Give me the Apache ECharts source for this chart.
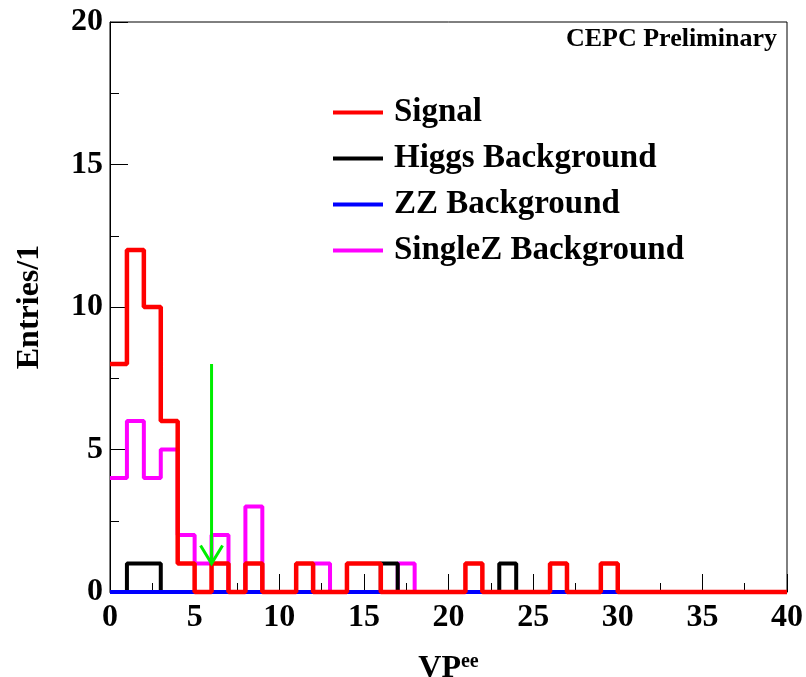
<!DOCTYPE html>
<html>
<head>
<meta charset="utf-8">
<script src="https://cdn.jsdelivr.net/npm/echarts@6/dist/echarts.min.js"></script>
<style>
html,body{margin:0;padding:0;background:#fff;}
#c{width:806px;height:677px;}
</style>
</head>
<body>
<div id="c"></div>
<script>
// Bin edges 0..40, width 1
var binStart = 0, binWidth = 1, nBins = 40;
var seriesNames = ['Signal', 'Higgs Background', 'ZZ Background', 'SingleZ Background'];
var signal  = [8,12,10,6,1,0,1,0,1,0, 0,1,0,0,1,1,0,0,0,0, 0,1,0,0,0,0,1,0,0,1, 0,0,0,0,0,0,0,0,0,0];
var higgs   = [0,1,1,0,0,0,0,0,0,0, 0,0,0,0,0,0,1,0,0,0, 0,0,0,1,0,0,0,0,0,0, 0,0,0,0,0,0,0,0,0,0];
var zz      = [0,0,0,0,0,0,0,0,0,0, 0,0,0,0,0,0,0,0,0,0, 0,0,0,0,0,0,0,0,0,0, 0,0,0,0,0,0,0,0,0,0];
var singleZ = [4,6,4,5,2,1,2,0,3,0, 0,0,1,0,0,0,0,1,0,0, 0,0,0,0,0,0,0,0,0,0, 0,0,0,0,0,0,0,0,0,0];
var cutArrow = {x: 6, from: 8, to: 1};
var xTicks = [0,5,10,15,20,25,30,35,40];
var yTicks = [0,5,10,15,20];

function steps(vals){
  var d = [];
  for (var i = 0; i < vals.length; i++) d.push([binStart + i*binWidth, vals[i]]);
  d.push([binStart + vals.length*binWidth, vals[vals.length-1]]);
  return d;
}

var FONT = '"Liberation Serif", "Times New Roman", serif';
var chart = echarts.init(document.getElementById('c'), null, {renderer:'canvas'});

function histSeries(name, vals, color, width, z){
  return {
    name: name, type: 'line', step: 'end', data: steps(vals),
    symbol: 'none', showSymbol: false, clip: false, z: z,
    lineStyle: {color: color, width: width}, itemStyle: {color: color},
    emphasis: {disabled: true}, animation: false
  };
}

var option = {
  animation: false,
  backgroundColor: '#fff',
  grid: {left: 110, right: 19, top: 22, bottom: 85, show: true, borderColor: '#000', borderWidth: 1,
         backgroundColor: 'transparent', containLabel: false, outerBoundsMode: 'none'},
  xAxis: {
    type: 'value', min: xTicks[0], max: xTicks[xTicks.length-1], interval: 5,
    name: '{a|VP}{b|ee}', nameLocation: 'middle', nameGap: 60,
    nameTextStyle: {rich: {
      a: {fontFamily: FONT, fontWeight: 'bold', fontSize: 32, color: '#000', lineHeight: 34},
      b: {fontFamily: FONT, fontWeight: 'bold', fontSize: 20, color: '#000', lineHeight: 34, verticalAlign: 'top', padding:[0,0,14,0]}
    }},
    axisLine: {show: true, lineStyle: {color: '#000', width: 1}},
    axisTick: {show: true, inside: true, length: 18, lineStyle: {color: '#000', width: 1}},
    minorTick: {show: true, splitNumber: 2, length: 9, lineStyle: {color: '#000', width: 1}},
    splitLine: {show: false},
    axisLabel: {fontFamily: FONT, fontWeight: 'bold', fontSize: 32, color: '#000', margin: 10}
  },
  yAxis: {
    type: 'value', min: yTicks[0], max: yTicks[yTicks.length-1], interval: 5,
    name: 'Entries/1', nameLocation: 'middle', nameRotate: 90, nameGap: 64,
    nameTextStyle: {fontFamily: FONT, fontWeight: 'bold', fontSize: 32, color: '#000'},
    axisLine: {show: true, lineStyle: {color: '#000', width: 1}},
    axisTick: {show: true, inside: true, length: 18, lineStyle: {color: '#000', width: 1}},
    minorTick: {show: true, splitNumber: 2, length: 9, lineStyle: {color: '#000', width: 1}},
    splitLine: {show: false},
    axisLabel: {fontFamily: FONT, fontWeight: 'bold', fontSize: 32, color: '#000', margin: 7}
  },
  legend: {
    show: true, orient: 'vertical', left: 333, top: 96, padding: 0,
    data: seriesNames, icon: 'rect', itemWidth: 50, itemHeight: 4, itemGap: 13,
    textStyle: {fontFamily: FONT, fontWeight: 'bold', fontSize: 33, color: '#000', lineHeight: 32, padding: [0,0,0,6]},
    selectedMode: false
  },
  graphic: [{
    type: 'text', right: 29, top: 26, z: 100,
    style: {text: 'CEPC Preliminary', font: 'bold 26px ' + FONT, fill: '#000'}
  }],
  series: [
    histSeries(seriesNames[3], singleZ, '#ff00ff', 4, 2),
    histSeries(seriesNames[1], higgs, '#000000', 4, 3),
    histSeries(seriesNames[2], zz, '#0000ff', 4, 4),
    histSeries(seriesNames[0], signal, '#ff0000', 4.5, 5),
    {
      type: 'custom', name: 'cut', z: 10, animation: false, clip: false,
      data: [[cutArrow.x, cutArrow.from, cutArrow.to]],
      renderItem: function(params, api){
        var top = api.coord([api.value(0), api.value(1)]);
        var tip = api.coord([api.value(0), api.value(2)]);
        var st = {stroke: '#00ee00', lineWidth: 3, fill: null};
        return {type: 'group', children: [
          {type: 'line', shape: {x1: top[0], y1: top[1], x2: tip[0], y2: tip[1]}, style: st},
          {type: 'polyline', shape: {points: [[tip[0]-11, tip[1]-18],[tip[0], tip[1]],[tip[0]+11, tip[1]-18]]}, style: st}
        ]};
      }
    }
  ]
};
chart.setOption(option);
</script>
</body>
</html>
